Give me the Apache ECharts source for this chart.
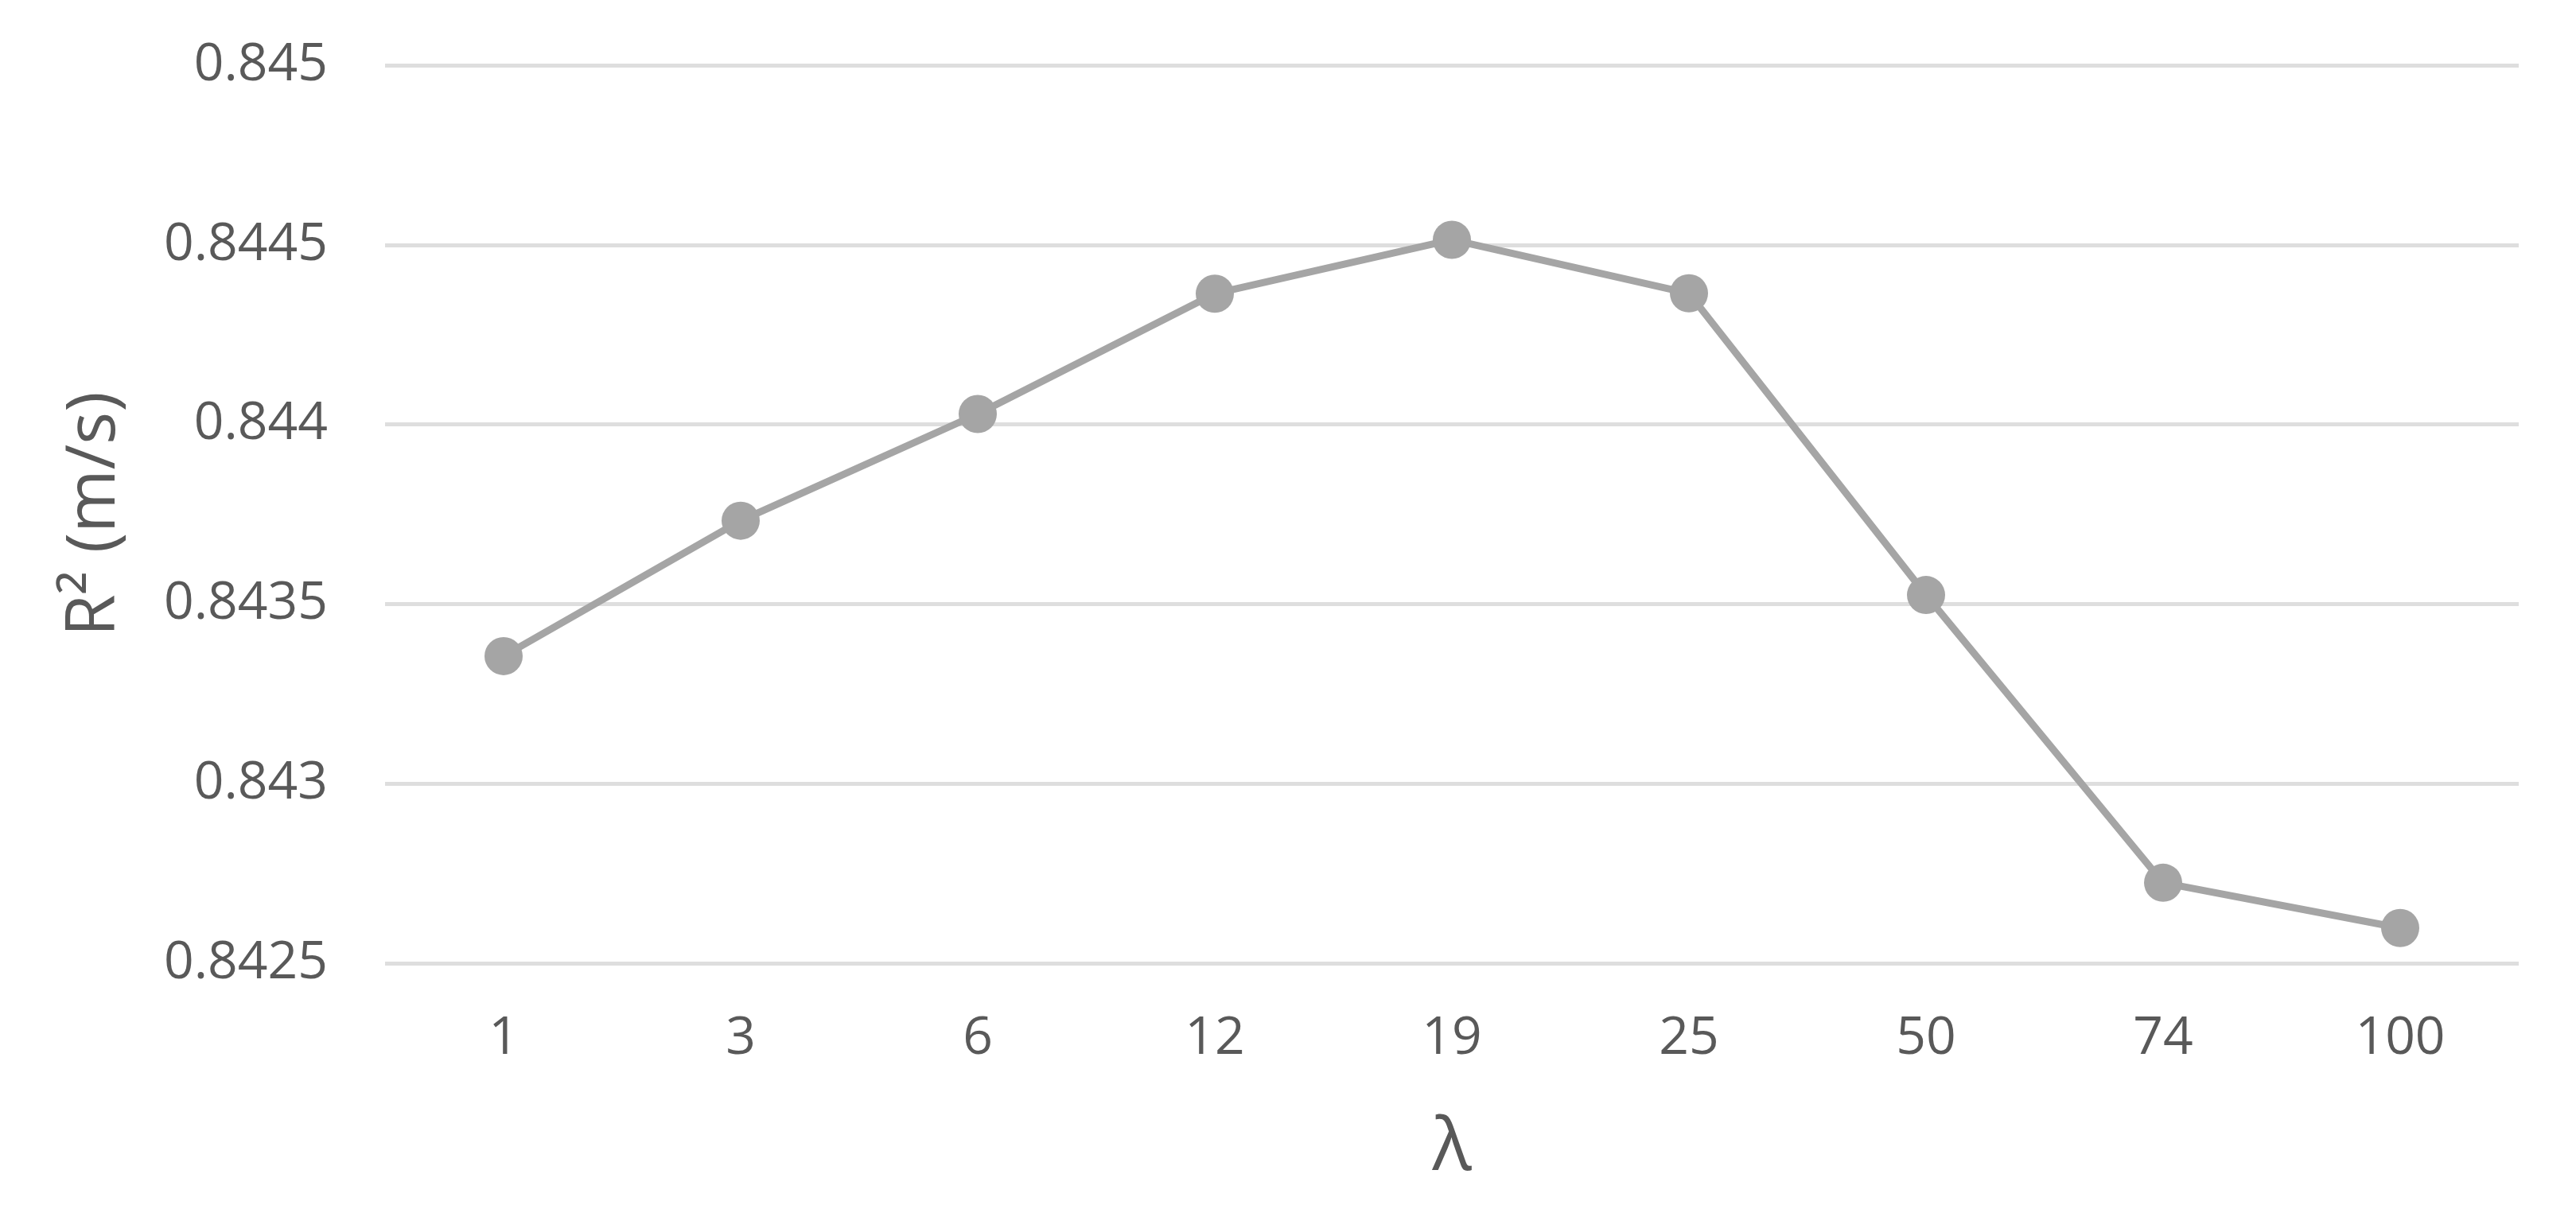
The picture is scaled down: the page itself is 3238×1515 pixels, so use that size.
<!DOCTYPE html>
<html>
<head>
<meta charset="utf-8">
<script src="https://cdn.jsdelivr.net/npm/echarts@6/dist/echarts.min.js"></script>
<style>
html,body{margin:0;padding:0;background:#fff;}
#c{width:3238px;height:1515px;}
</style>
</head>
<body>
<div id="c"></div>
<script>
var categories = ['1','3','6','12','19','25','50','74','100'];
var r2Values = [0.843355, 0.843732, 0.844029, 0.844364, 0.844514, 0.844365, 0.843525, 0.842724, 0.842598];
var yMin = 0.8425, yMax = 0.845, yStep = 0.0005;
var xTitle = 'λ';
var yTitle = 'R² (m/s)';

var chart = echarts.init(document.getElementById('c'));
var txt = '#595959';
var font = '"Open Sans", "Noto Sans", sans-serif';
chart.setOption({
  backgroundColor: '#ffffff',
  animation: false,
  grid: {left: 484, right: 72, top: 82, bottom: 304},
  xAxis: {
    type: 'category',
    data: categories,
    boundaryGap: true,
    axisLine: {show: false},
    axisTick: {show: false},
    axisLabel: {color: txt, fontSize: 66, fontFamily: font, margin: 62},
    name: xTitle,
    nameLocation: 'middle',
    nameGap: 188,
    nameTextStyle: {color: txt, fontSize: 92, fontFamily: font}
  },
  yAxis: {
    type: 'value',
    min: yMin, max: yMax, interval: yStep,
    axisLine: {show: false},
    axisTick: {show: false},
    axisLabel: {color: txt, fontSize: 66, fontFamily: font, margin: 72},
    splitLine: {lineStyle: {color: '#dedede', width: 5}},
    name: yTitle,
    nameLocation: 'middle',
    nameRotate: 90,
    nameGap: 322,
    nameTextStyle: {color: txt, fontSize: 86, fontFamily: font}
  },
  series: [{
    type: 'line',
    data: r2Values,
    symbol: 'circle',
    symbolSize: 48,
    lineStyle: {color: '#a5a5a5', width: 9},
    itemStyle: {color: '#a5a5a5'}
  }]
});
</script>
</body>
</html>
